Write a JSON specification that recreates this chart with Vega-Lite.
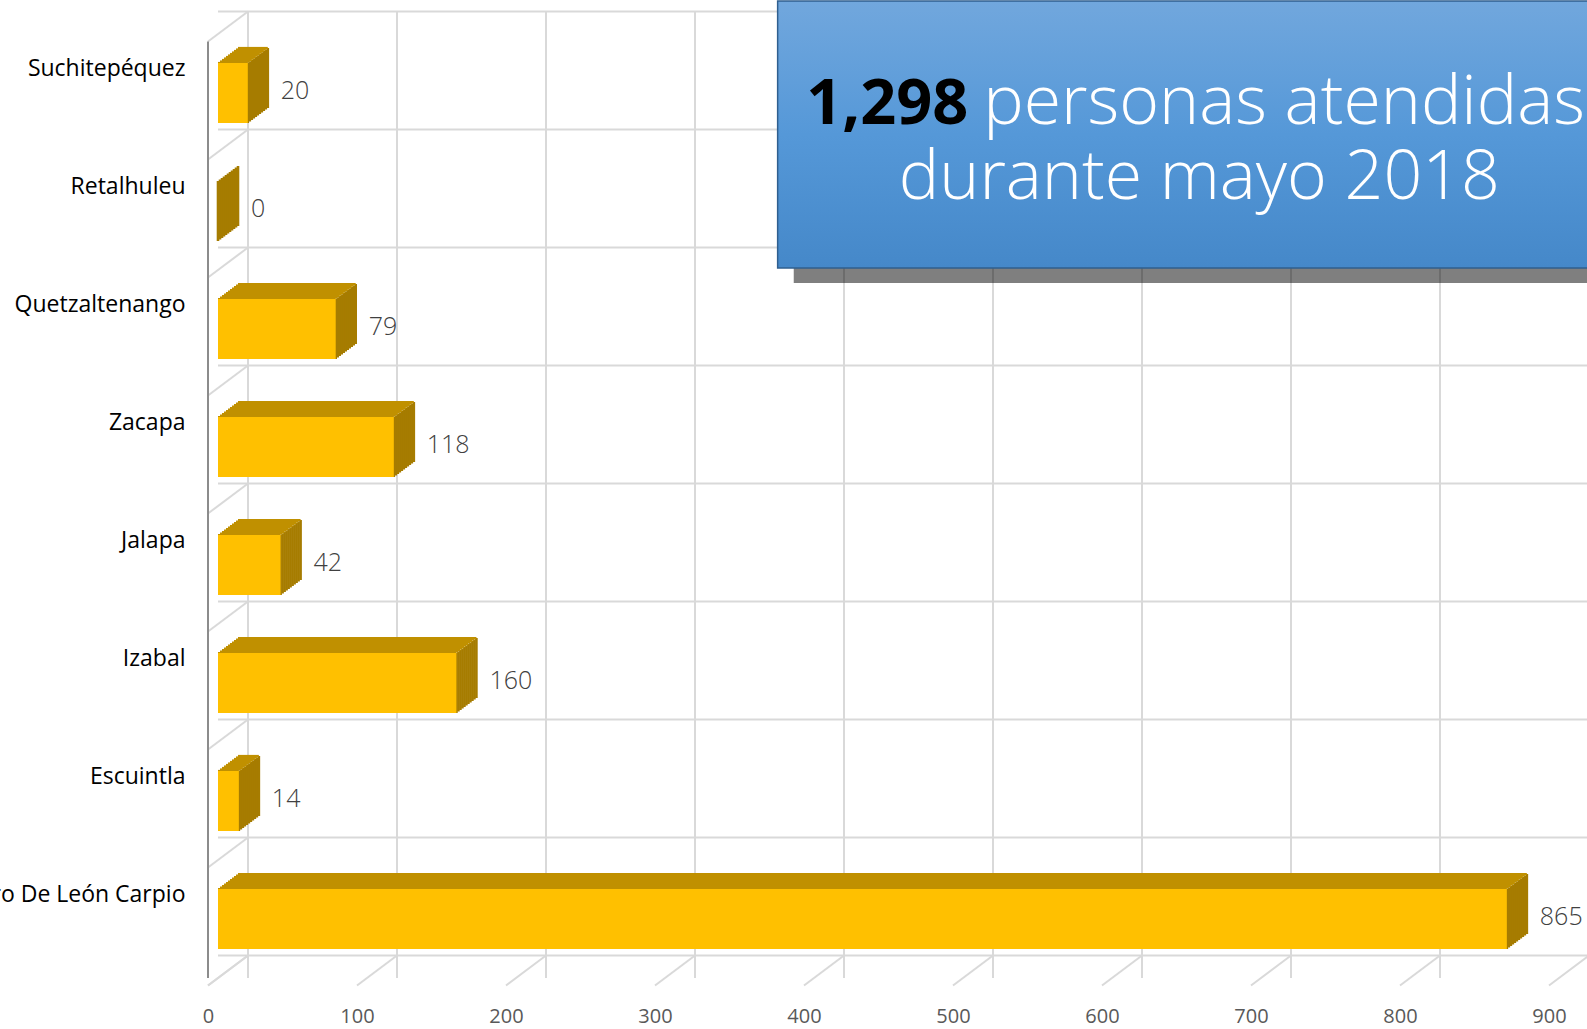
{
  "$schema": "https://vega.github.io/schema/vega-lite/v6.json",
  "autosize": {"type": "none"},
  "width": 1341,
  "height": 944,
  "padding": {"left": 218, "top": 34, "right": 28, "bottom": 51},
  "background": "white",
  "config": {
    "view": {"stroke": null},
    "axis": {"domain": false, "ticks": false, "grid": false},
    "axisX": {"labelFont": "Open Sans", "labelFontSize": 20, "labelColor": "#595959", "labelOffset": -10, "labelPadding": 28, "tickCount": 9, "labelFlush": false, "labelOverlap": false},
    "axisY": {"labelFont": "Open Sans", "labelFontSize": 23, "labelColor": "#000000", "labelPadding": 33, "labelOffset": -24, "labelLimit": 600}
  },
  "datasets": {
    "bars": [
      {"depto": "Suchitepéquez", "personas": 20},
      {"depto": "Retalhuleu", "personas": 0},
      {"depto": "Quetzaltenango", "personas": 79},
      {"depto": "Zacapa", "personas": 118},
      {"depto": "Jalapa", "personas": 42},
      {"depto": "Izabal", "personas": 160},
      {"depto": "Escuintla", "personas": 14},
      {"depto": "Ramiro De León Carpio", "personas": 865}
    ],
    "ticks": [{"t": 0}, {"t": 100}, {"t": 200}, {"t": 300}, {"t": 400}, {"t": 500}, {"t": 600}, {"t": 700}, {"t": 800}, {"t": 900}],
    "note": [{"big": "1,298", "rest": "personas atendidas", "line2": "durante mayo 2018"}]
  },
  "data": {"name": "bars"},
  "layer": [
    {"data": {"name": "ticks"}, "mark": {"type": "rule", "color": "#D9D9D9", "strokeWidth": 2, "xOffset": 30, "x2Offset": 30, "yOffset": -22.5, "y2Offset": -22.5},
     "encoding": {"x": {"field": "t", "type": "quantitative", "title": null, "scale": {"domain": [0, 900], "nice": false}}}},
    {"mark": {"type": "rule", "color": "#D9D9D9", "strokeWidth": 2, "xOffset": 30, "x2Offset": 30, "yOffset": -81.5, "y2Offset": -81.5},
     "encoding": {"y": {"field": "depto", "type": "nominal", "sort": null, "title": null, "scale": {"paddingInner": 0.4915, "paddingOuter": 0.2458}}}},
    {"transform": [{"filter": "datum.depto === 'Ramiro De León Carpio'"}],
     "mark": {"type": "rule", "color": "#D9D9D9", "strokeWidth": 2, "xOffset": 30, "x2Offset": 30, "yOffset": 36.5, "y2Offset": 36.5},
     "encoding": {"y": {"field": "depto", "type": "nominal", "sort": null, "title": null}}},
    {"mark": {"type": "rule", "color": "#D9D9D9", "strokeWidth": 2, "xOffset": -10, "x2Offset": 30, "yOffset": -51.5, "y2Offset": -81.5},
     "encoding": {"x": {"datum": 0, "type": "quantitative", "title": null}, "x2": {"datum": 0}, "y": {"field": "depto", "type": "nominal", "sort": null, "title": null}, "y2": {"field": "depto"}}},
    {"transform": [{"filter": "datum.depto === 'Ramiro De León Carpio'"}],
     "mark": {"type": "rule", "color": "#D9D9D9", "strokeWidth": 2, "xOffset": -10, "x2Offset": 30, "yOffset": 66.5, "y2Offset": 36.5},
     "encoding": {"x": {"datum": 0, "type": "quantitative", "title": null}, "x2": {"datum": 0}, "y": {"field": "depto", "type": "nominal", "sort": null, "title": null}, "y2": {"field": "depto"}}},
    {"data": {"name": "ticks"}, "mark": {"type": "rule", "color": "#D9D9D9", "strokeWidth": 2, "xOffset": -10, "x2Offset": 30, "yOffset": 66.5, "y2Offset": 36.5},
     "encoding": {"x": {"field": "t", "type": "quantitative", "title": null}, "x2": {"field": "t"}, "y": {"datum": "Ramiro De León Carpio", "type": "nominal", "title": null}, "y2": {"datum": "Ramiro De León Carpio"}}},
    {"data": {"name": "note"}, "mark": {"type": "rule", "color": "#8C8C8C", "strokeWidth": 2, "xOffset": -10, "x2Offset": -10, "yOffset": 7.5, "y2Offset": 7.5},
     "encoding": {"x": {"datum": 0, "type": "quantitative", "title": null}}},

    {"mark": {"type": "tick", "orient": "vertical", "color": "#A67C00", "opacity": 1, "thickness": 2.6, "size": 60, "xOffset": 0, "yOffset": 0}, "encoding": {"x": {"field": "personas", "type": "quantitative", "title": null}, "y": {"field": "depto", "type": "nominal", "sort": null, "title": null}}},
    {"mark": {"type": "tick", "orient": "vertical", "color": "#A67C00", "opacity": 1, "thickness": 2.6, "size": 60, "xOffset": 2, "yOffset": -1.5}, "encoding": {"x": {"field": "personas", "type": "quantitative", "title": null}, "y": {"field": "depto", "type": "nominal", "sort": null, "title": null}}},
    {"mark": {"type": "tick", "orient": "vertical", "color": "#A67C00", "opacity": 1, "thickness": 2.6, "size": 60, "xOffset": 4, "yOffset": -3}, "encoding": {"x": {"field": "personas", "type": "quantitative", "title": null}, "y": {"field": "depto", "type": "nominal", "sort": null, "title": null}}},
    {"mark": {"type": "tick", "orient": "vertical", "color": "#A67C00", "opacity": 1, "thickness": 2.6, "size": 60, "xOffset": 6, "yOffset": -4.5}, "encoding": {"x": {"field": "personas", "type": "quantitative", "title": null}, "y": {"field": "depto", "type": "nominal", "sort": null, "title": null}}},
    {"mark": {"type": "tick", "orient": "vertical", "color": "#A67C00", "opacity": 1, "thickness": 2.6, "size": 60, "xOffset": 8, "yOffset": -6}, "encoding": {"x": {"field": "personas", "type": "quantitative", "title": null}, "y": {"field": "depto", "type": "nominal", "sort": null, "title": null}}},
    {"mark": {"type": "tick", "orient": "vertical", "color": "#A67C00", "opacity": 1, "thickness": 2.6, "size": 60, "xOffset": 10, "yOffset": -7.5}, "encoding": {"x": {"field": "personas", "type": "quantitative", "title": null}, "y": {"field": "depto", "type": "nominal", "sort": null, "title": null}}},
    {"mark": {"type": "tick", "orient": "vertical", "color": "#A67C00", "opacity": 1, "thickness": 2.6, "size": 60, "xOffset": 12, "yOffset": -9}, "encoding": {"x": {"field": "personas", "type": "quantitative", "title": null}, "y": {"field": "depto", "type": "nominal", "sort": null, "title": null}}},
    {"mark": {"type": "tick", "orient": "vertical", "color": "#A67C00", "opacity": 1, "thickness": 2.6, "size": 60, "xOffset": 14, "yOffset": -10.5}, "encoding": {"x": {"field": "personas", "type": "quantitative", "title": null}, "y": {"field": "depto", "type": "nominal", "sort": null, "title": null}}},
    {"mark": {"type": "tick", "orient": "vertical", "color": "#A67C00", "opacity": 1, "thickness": 2.6, "size": 60, "xOffset": 16, "yOffset": -12}, "encoding": {"x": {"field": "personas", "type": "quantitative", "title": null}, "y": {"field": "depto", "type": "nominal", "sort": null, "title": null}}},
    {"mark": {"type": "tick", "orient": "vertical", "color": "#A67C00", "opacity": 1, "thickness": 2.6, "size": 60, "xOffset": 18, "yOffset": -13.5}, "encoding": {"x": {"field": "personas", "type": "quantitative", "title": null}, "y": {"field": "depto", "type": "nominal", "sort": null, "title": null}}},
    {"mark": {"type": "tick", "orient": "vertical", "color": "#A67C00", "opacity": 1, "thickness": 2.6, "size": 60, "xOffset": 20, "yOffset": -15}, "encoding": {"x": {"field": "personas", "type": "quantitative", "title": null}, "y": {"field": "depto", "type": "nominal", "sort": null, "title": null}}},

    {"mark": {"type": "rule", "color": "#C09000", "strokeWidth": 2.2, "xOffset": 0, "x2Offset": 0, "yOffset": -30}, "encoding": {"x": {"field": "personas", "type": "quantitative", "title": null}, "x2": {"datum": 0}, "y": {"field": "depto", "type": "nominal", "sort": null, "title": null}}},
    {"mark": {"type": "rule", "color": "#C09000", "strokeWidth": 2.2, "xOffset": 2, "x2Offset": 2, "yOffset": -31.5}, "encoding": {"x": {"field": "personas", "type": "quantitative", "title": null}, "x2": {"datum": 0}, "y": {"field": "depto", "type": "nominal", "sort": null, "title": null}}},
    {"mark": {"type": "rule", "color": "#C09000", "strokeWidth": 2.2, "xOffset": 4, "x2Offset": 4, "yOffset": -33}, "encoding": {"x": {"field": "personas", "type": "quantitative", "title": null}, "x2": {"datum": 0}, "y": {"field": "depto", "type": "nominal", "sort": null, "title": null}}},
    {"mark": {"type": "rule", "color": "#C09000", "strokeWidth": 2.2, "xOffset": 6, "x2Offset": 6, "yOffset": -34.5}, "encoding": {"x": {"field": "personas", "type": "quantitative", "title": null}, "x2": {"datum": 0}, "y": {"field": "depto", "type": "nominal", "sort": null, "title": null}}},
    {"mark": {"type": "rule", "color": "#C09000", "strokeWidth": 2.2, "xOffset": 8, "x2Offset": 8, "yOffset": -36}, "encoding": {"x": {"field": "personas", "type": "quantitative", "title": null}, "x2": {"datum": 0}, "y": {"field": "depto", "type": "nominal", "sort": null, "title": null}}},
    {"mark": {"type": "rule", "color": "#C09000", "strokeWidth": 2.2, "xOffset": 10, "x2Offset": 10, "yOffset": -37.5}, "encoding": {"x": {"field": "personas", "type": "quantitative", "title": null}, "x2": {"datum": 0}, "y": {"field": "depto", "type": "nominal", "sort": null, "title": null}}},
    {"mark": {"type": "rule", "color": "#C09000", "strokeWidth": 2.2, "xOffset": 12, "x2Offset": 12, "yOffset": -39}, "encoding": {"x": {"field": "personas", "type": "quantitative", "title": null}, "x2": {"datum": 0}, "y": {"field": "depto", "type": "nominal", "sort": null, "title": null}}},
    {"mark": {"type": "rule", "color": "#C09000", "strokeWidth": 2.2, "xOffset": 14, "x2Offset": 14, "yOffset": -40.5}, "encoding": {"x": {"field": "personas", "type": "quantitative", "title": null}, "x2": {"datum": 0}, "y": {"field": "depto", "type": "nominal", "sort": null, "title": null}}},
    {"mark": {"type": "rule", "color": "#C09000", "strokeWidth": 2.2, "xOffset": 16, "x2Offset": 16, "yOffset": -42}, "encoding": {"x": {"field": "personas", "type": "quantitative", "title": null}, "x2": {"datum": 0}, "y": {"field": "depto", "type": "nominal", "sort": null, "title": null}}},
    {"mark": {"type": "rule", "color": "#C09000", "strokeWidth": 2.2, "xOffset": 18, "x2Offset": 18, "yOffset": -43.5}, "encoding": {"x": {"field": "personas", "type": "quantitative", "title": null}, "x2": {"datum": 0}, "y": {"field": "depto", "type": "nominal", "sort": null, "title": null}}},
    {"mark": {"type": "rule", "color": "#C09000", "strokeWidth": 2.2, "xOffset": 20, "x2Offset": 20, "yOffset": -45}, "encoding": {"x": {"field": "personas", "type": "quantitative", "title": null}, "x2": {"datum": 0}, "y": {"field": "depto", "type": "nominal", "sort": null, "title": null}}},

    {"mark": {"type": "bar", "color": "#FFC000"},
     "encoding": {"x": {"field": "personas", "type": "quantitative", "title": null}, "y": {"field": "depto", "type": "nominal", "sort": null, "title": null}}},
    {"mark": {"type": "text", "align": "left", "baseline": "middle", "dx": 33, "dy": -2, "font": "Open Sans", "fontWeight": 300, "fontSize": 25, "color": "#404040"},
     "encoding": {"x": {"field": "personas", "type": "quantitative", "title": null}, "y": {"field": "depto", "type": "nominal", "sort": null, "title": null}, "text": {"field": "personas", "type": "quantitative"}}},

    {"data": {"name": "note"}, "mark": {"type": "rect", "color": "#000000", "opacity": 0.5, "xOffset": 0, "x2Offset": 0, "yOffset": -80, "y2Offset": 190},
     "encoding": {"x": {"datum": 386.4, "type": "quantitative", "title": null}, "x2": {"datum": 980}, "y": {"datum": "Suchitepéquez", "type": "nominal", "title": null}, "y2": {"datum": "Suchitepéquez"}}},
    {"data": {"name": "note"}, "mark": {"type": "rect", "stroke": "#2F5F8F", "strokeWidth": 1.5, "yOffset": -92, "y2Offset": 175,
       "fill": {"gradient": "linear", "x1": 0, "y1": 0, "x2": 0, "y2": 1, "stops": [{"offset": 0, "color": "#71A7DD"}, {"offset": 0.5, "color": "#5598D8"}, {"offset": 1, "color": "#4588C9"}]}},
     "encoding": {"x": {"datum": 375.6, "type": "quantitative", "title": null}, "x2": {"datum": 980}, "y": {"datum": "Suchitepéquez", "type": "nominal", "title": null}, "y2": {"datum": "Suchitepéquez"}}},
    {"data": {"name": "note"}, "mark": {"type": "text", "align": "left", "baseline": "alphabetic", "yOffset": 30.5, "font": "Open Sans", "fontWeight": "bold", "fontSize": 63, "color": "#000000"},
     "encoding": {"x": {"datum": 394.8, "type": "quantitative", "title": null}, "y": {"datum": "Suchitepéquez", "type": "nominal", "title": null}, "text": {"field": "big"}}},
    {"data": {"name": "note"}, "mark": {"type": "text", "align": "left", "baseline": "alphabetic", "yOffset": 30.5, "font": "Open Sans", "fontWeight": 300, "fontSize": 68, "color": "#FFFFFF"},
     "encoding": {"x": {"datum": 513.6, "type": "quantitative", "title": null}, "y": {"datum": "Suchitepéquez", "type": "nominal", "title": null}, "text": {"field": "rest"}}},
    {"data": {"name": "note"}, "mark": {"type": "text", "align": "center", "baseline": "alphabetic", "yOffset": 106.4, "font": "Open Sans", "fontWeight": 300, "fontSize": 68, "color": "#FFFFFF"},
     "encoding": {"x": {"datum": 658.6, "type": "quantitative", "title": null}, "y": {"datum": "Suchitepéquez", "type": "nominal", "title": null}, "text": {"field": "line2"}}}
  ]
}
